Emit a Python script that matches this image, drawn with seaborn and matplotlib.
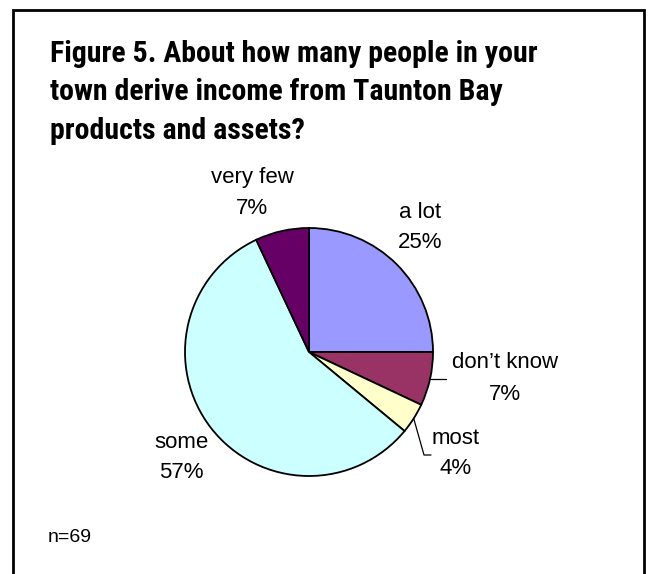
import numpy as np
import matplotlib
matplotlib.use("Agg")
import matplotlib.pyplot as plt
from matplotlib import font_manager
import seaborn as sns

# Survey answers, clockwise from 12 o'clock
categories = ["a lot", "don\u2019t know", "most", "some", "very few"]
shares = [25, 7, 4, 57, 7]
slice_colors = ["#9999FF", "#993366", "#FFFFCC", "#CCFFFF", "#660066"]
title_lines = [
    "Figure 5. About how many people in your",
    "town derive income from Taunton Bay",
    "products and assets?",
]
sample_note = "n=69"

sns.set_theme(style="white")
available = {f.name for f in font_manager.fontManager.ttflist}
narrow_prefs = ["Liberation Sans Narrow", "Arial Narrow", "Roboto Condensed",
                "Archivo Narrow", "PT Sans Narrow", "IBM Plex Sans Condensed",
                "Fira Sans Condensed", "Sofia Sans Condensed"]
narrow = next((n for n in narrow_prefs if n in available), "Liberation Sans")
plt.rcParams["font.family"] = ["Liberation Sans", "DejaVu Sans"]

W, H = 652, 574
fig = plt.figure(figsize=(W / 100, H / 100), dpi=100)
ax = fig.add_axes([0, 0, 1, 1])

def py(y):
    # convert a top-down pixel row into the axes' bottom-up y
    return H - y

cx, cy, r = 309, py(352), 124
wedges, _ = ax.pie(
    shares,
    colors=sns.color_palette(slice_colors),
    startangle=90,
    counterclock=False,
    center=(cx, cy),
    radius=r,
    wedgeprops=dict(edgecolor="black", linewidth=1.3),
)
ax.set_xlim(0, W)
ax.set_ylim(0, H)
ax.set_aspect("auto")
ax.axis("off")

# outer frame of the chart area
frame = plt.Rectangle((13, -20), 631, H - 10 + 20, fill=False,
                      edgecolor="black", linewidth=2.0, transform=ax.transData)
ax.add_patch(frame)

# title in a condensed bold face
for i, line in enumerate(title_lines):
    ax.text(50, py(62 + 38.5 * i), line, ha="left", va="baseline",
            fontsize=21.5, fontweight="bold", family=[narrow, "DejaVu Sans"],
            color="black")

# category labels with percentages
label_pos = {
    "a lot": (420, 212),
    "don\u2019t know": (505, 363),
    "most": (456, 438),
    "some": (181, 442),
    "very few": (252, 178),
}
for cat, val in zip(categories, shares):
    x, y = label_pos[cat]
    ax.text(x, py(y), cat, ha="center", va="center", fontsize=16, color="black")
    ax.text(x, py(y + 31), f"{val}%", ha="center", va="center", fontsize=16, color="black")

# leader lines for the two small slices on the right
def edge_point(w):
    mid = np.deg2rad((w.theta1 + w.theta2) / 2)
    return cx + r * np.cos(mid), cy + r * np.sin(mid)

ex, ey = edge_point(wedges[1])
ax.plot([ex, 446], [ey, ey], color="black", linewidth=0.9)
ex, ey = edge_point(wedges[2])
ax.plot([ex, 424, 431], [ey, py(455), py(455)], color="black", linewidth=0.9)

ax.text(48, py(537), sample_note, ha="left", va="center", fontsize=14,
        color="black")

fig.savefig("out.png", dpi=100, facecolor="white")
